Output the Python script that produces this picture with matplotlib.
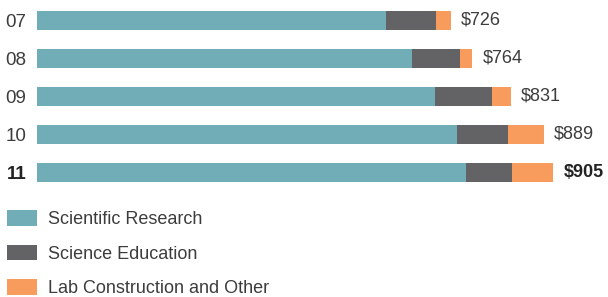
import matplotlib.pyplot as plt
from matplotlib.patches import Patch

years = ["07", "08", "09", "10", "11"]
research = [612, 658, 698, 737, 753]
education = [88, 84, 101, 89, 80]
lab_other = [26, 22, 32, 63, 72]
totals = ["$726", "$764", "$831", "$889", "$905"]

series_names = ["Scientific Research", "Science Education", "Lab Construction and Other"]
colors = ["#70adb7", "#636365", "#f89c5e"]
text_color = "#3c3c3c"

plt.rcParams['font.family'] = ['Liberation Sans', 'DejaVu Sans']

fig = plt.figure(figsize=(6.08, 2.97), dpi=100)
ax = fig.add_axes([37 / 608, (297 - 191.5) / 297, 571 / 608, 190 / 297])

y = list(range(len(years)))
left = [0] * len(years)
for vals, c in zip([research, education, lab_other], colors):
    ax.barh(y, vals, left=left, height=0.5, color=c, linewidth=0)
    left = [l + v for l, v in zip(left, vals)]

for i, (tot, lab) in enumerate(zip(left, totals)):
    last = i == len(years) - 1
    ax.annotate(lab, (tot, i), xytext=(7.5, 0), textcoords="offset points",
                va="center", ha="left", fontsize=13, color="#222222" if last else text_color,
                fontweight="bold" if last else "normal")

ax.set_xlim(0, 571 / 0.57)
ax.set_ylim(4.5, -0.5)
ax.set_yticks(y)
ax.set_yticklabels(years, fontsize=13.5, color=text_color)
ax.get_yticklabels()[-1].set_fontweight("bold")
ax.get_yticklabels()[-1].set_color("#222222")
ax.tick_params(axis="y", length=0, pad=7.5)
ax.set_xticks([])
for s in ax.spines.values():
    s.set_visible(False)

handles = [Patch(facecolor=c, edgecolor="none") for c in colors]
fig.legend(handles, series_names, loc="upper left", bbox_to_anchor=(7 / 608, 1 - 210 / 297),
           frameon=False, fontsize=13, labelcolor=text_color, borderpad=0, borderaxespad=0,
           handlelength=1.65, handleheight=0.95, handletextpad=0.62, labelspacing=0.92)

fig.savefig("out.png", dpi=100)
